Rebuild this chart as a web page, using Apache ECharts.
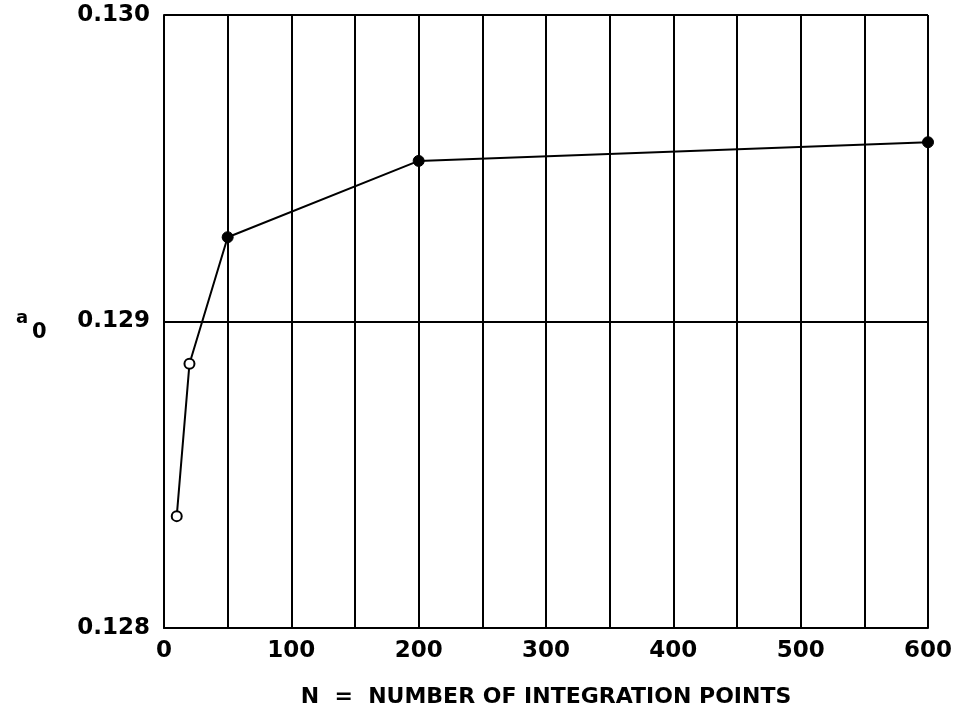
<!DOCTYPE html>
<html>
<head>
<meta charset="utf-8">
<script src="https://cdn.jsdelivr.net/npm/echarts@6/dist/echarts.min.js"></script>
<style>
  html, body { margin: 0; padding: 0; background: #fff; }
  #chart { width: 968px; height: 717px; }
</style>
</head>
<body>
<div id="chart"></div>
<script>
// Number of integration points and the resulting a0 coefficient
const nPoints = [10, 20, 50, 200, 600];
const a0Values = [0.128365, 0.128862, 0.129275, 0.129524, 0.129585];
// Which points are drawn as open circles
const openMarker = [true, true, false, false, false];
// Axis tick values
const xTicks = [0, 100, 200, 300, 400, 500, 600];
const yTicks = [0.128, 0.129, 0.130];

const FONT = '"DejaVu Sans", sans-serif';

const chart = echarts.init(document.getElementById('chart'));

const seriesData = nPoints.map((n, i) => ({
  value: [n, a0Values[i]],
  symbolSize: openMarker[i] ? 10 : 11,
  itemStyle: openMarker[i]
    ? { color: '#fff', borderColor: '#000', borderWidth: 2 }
    : { color: '#000', borderColor: '#000', borderWidth: 1 }
}));

chart.setOption({
  backgroundColor: '#fff',
  animation: false,
  grid: { left: 164, right: 40, top: 15, bottom: 89 },
  xAxis: {
    type: 'value',
    min: 0,
    max: 600,
    interval: 50,
    axisLine: { show: true, lineStyle: { color: '#000', width: 2 } },
    axisTick: { show: false },
    axisLabel: {
      color: '#000',
      fontFamily: FONT,
      fontWeight: 'bold',
      fontSize: 23,
      margin: 12,
      formatter: v => (xTicks.indexOf(v) >= 0 ? String(v) : '')
    },
    splitLine: { show: true, lineStyle: { color: '#000', width: 2 } },
    name: 'N  =  NUMBER OF INTEGRATION POINTS',
    nameLocation: 'middle',
    nameGap: 58,
    nameTextStyle: { color: '#000', fontFamily: FONT, fontWeight: 'bold', fontSize: 22 }
  },
  yAxis: {
    type: 'value',
    min: 0.128,
    max: 0.130,
    interval: 0.001,
    axisLine: { show: true, lineStyle: { color: '#000', width: 2 } },
    axisTick: { show: false },
    axisLabel: {
      color: '#000',
      fontFamily: FONT,
      fontWeight: 'bold',
      fontSize: 23,
      margin: 14,
      formatter: v => {
        const t = yTicks.find(y => Math.abs(y - v) < 1e-9);
        return t !== undefined ? t.toFixed(3) : '';
      }
    },
    splitLine: { show: true, lineStyle: { color: '#000', width: 2 } }
  },
  graphic: [
    {
      type: 'text',
      left: 16,
      top: 309,
      style: { text: 'a', fill: '#000', font: 'bold 18px ' + FONT }
    },
    {
      type: 'text',
      left: 32,
      top: 322,
      style: { text: '0', fill: '#000', font: 'bold 21px ' + FONT }
    }
  ],
  series: [{
    type: 'line',
    data: seriesData,
    symbol: 'circle',
    lineStyle: { color: '#000', width: 2 },
    z: 5
  }]
});
</script>
</body>
</html>
